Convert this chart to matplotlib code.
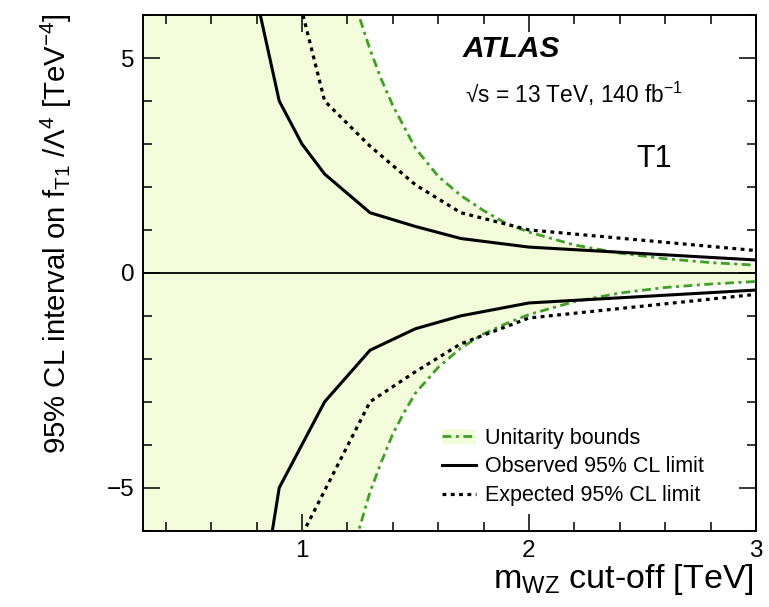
import numpy as np
import matplotlib
matplotlib.use('Agg')
import matplotlib.pyplot as plt
from matplotlib.ticker import MultipleLocator
from matplotlib.patches import Patch
from matplotlib.lines import Line2D

plt.rcParams['font.family'] = ['Liberation Sans', 'DejaVu Sans']
plt.rcParams['mathtext.fontset'] = 'custom'
plt.rcParams['mathtext.rm'] = 'Liberation Sans'
plt.rcParams['mathtext.it'] = 'Liberation Sans:italic'

# observed 95% CL limit on f_T1/Lambda^4 vs mWZ cut-off
obs_m = [0.8, 0.9, 1.0, 1.1, 1.3, 1.5, 1.7, 2.0, 3.0]
obs_up = [6.4, 4.0, 3.0, 2.3, 1.4, 1.08, 0.8, 0.6, 0.3]
obs_lo = [-8.3, -5.0, -4.0, -3.0, -1.8, -1.3, -1.0, -0.7, -0.4]

# expected
exp_m = [0.9, 1.0, 1.1, 1.3, 1.5, 1.7, 2.0, 3.0]
exp_up = [9.0, 6.1, 4.0, 2.95, 2.05, 1.4, 1.0, 0.52]
exp_lo_m = [0.9, 1.0, 1.3, 1.5, 1.7, 2.0, 3.0]
exp_lo = [-12.0, -6.1, -3.0, -2.3, -1.65, -1.05, -0.5]

# unitarity bounds
unit_m = [1.2, 1.25, 1.3, 1.35, 1.4, 1.45, 1.5, 1.6, 1.7, 1.8, 1.9, 2.0, 2.2, 2.4, 2.6, 2.8, 3.0]
unit_up = [7.2, 6.0, 5.2, 4.5, 3.9, 3.4, 2.9, 2.25, 1.8, 1.45, 1.15, 0.95, 0.65, 0.46, 0.33, 0.24, 0.18]
unit_lo = [-7.2, -6.0, -5.1, -4.4, -3.75, -3.25, -2.8, -2.2, -1.75, -1.42, -1.18, -0.97, -0.67, -0.47, -0.34, -0.26, -0.2]

x_lo, x_hi = 0.3, 3.0
green = '#3fa026'
fill_col = '#f2fbda'

fig = plt.figure(figsize=(7.69, 6.07), dpi=100)
ax = fig.add_axes([0.186, 0.1257, 0.797, 0.8495])

ax.fill_between(np.r_[x_lo, unit_m], np.r_[unit_lo[0], unit_lo], np.r_[unit_up[0], unit_up],
                color=fill_col, lw=0, zorder=0)
dashdot = (0, (3.2, 1.6, 1.1, 1.6))
ax.plot(unit_m, unit_up, color=green, lw=2, ls=dashdot)
ax.plot(unit_m, unit_lo, color=green, lw=2, ls=dashdot)

dots = (0, (1.2, 1.4))
ax.plot(exp_m, exp_up, color='black', lw=2.3, ls=dots, dash_capstyle='butt')
ax.plot(exp_lo_m, exp_lo, color='black', lw=2.3, ls=dots, dash_capstyle='butt')
ax.plot(obs_m, obs_up, color='black', lw=2.2)
ax.plot(obs_m, obs_lo, color='black', lw=2.2)
ax.axhline(0, color='black', lw=1.3)

ax.set_xlim(x_lo, x_hi)
ax.set_ylim(-6, 6)
ax.xaxis.set_major_locator(MultipleLocator(1))
ax.xaxis.set_minor_locator(MultipleLocator(0.2))
ax.yaxis.set_major_locator(MultipleLocator(5))
ax.yaxis.set_minor_locator(MultipleLocator(1))
ax.tick_params(which='both', direction='in', top=True, right=True, width=1.1, labelsize=17.5)
ax.tick_params(which='major', length=12)
ax.tick_params(which='minor', length=6.5)
ax.tick_params(axis='x', pad=7)
ax.tick_params(axis='y', pad=6)
for s in ax.spines.values():
    s.set_linewidth(1.4)

fig.text(56 / 769, 1 - 13 / 607, r'95% CL interval on f$_{\mathrm{T1}}$ /Λ$^4$ [TeV$^{-4}$]',
         rotation=90, ha='center', va='top', fontsize=21.2)
fig.text(754 / 769, 1 - 588 / 607, r'm$_{\mathrm{WZ}}$ cut-off [TeV]',
         ha='right', va='baseline', fontsize=24.5)

ax.text(0.522, 0.9186, 'ATLAS', transform=ax.transAxes, fontsize=21.5,
        fontweight='bold', fontstyle='italic')
ax.text(0.525, 0.829, r'√s = 13 TeV, 140 fb$^{-1}$', transform=ax.transAxes, fontsize=16.3)
ax.text(0.805, 0.706, 'T1', transform=ax.transAxes, fontsize=22)

handles = [
    (Patch(facecolor=fill_col, edgecolor='none'), Line2D([], [], color=green, lw=2, ls=dashdot)),
    Line2D([], [], color='black', lw=2.2),
    Line2D([], [], color='black', lw=2.3, ls=dots),
]
labels = ['Unitarity bounds', 'Observed 95% CL limit', 'Expected 95% CL limit']
ax.legend(handles, labels, loc='lower right', bbox_to_anchor=(0.947, 0.01), frameon=False,
          fontsize=15.5, handlelength=1.55, handletextpad=0.45, labelspacing=0.36)

fig.savefig('out.png', dpi=100)
